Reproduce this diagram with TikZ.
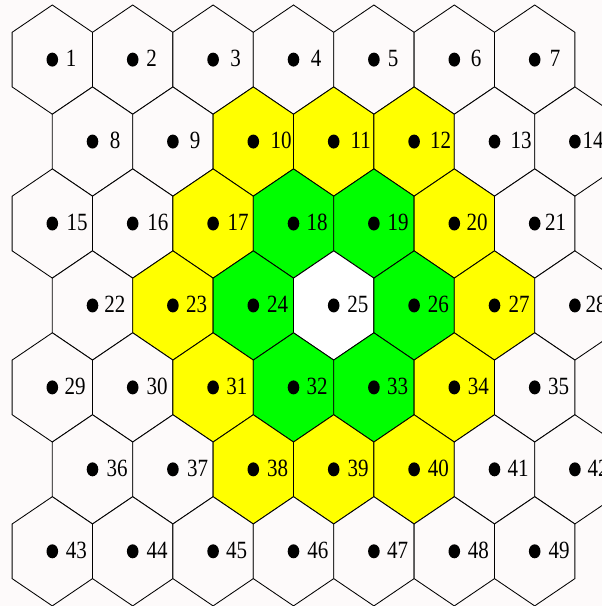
\documentclass[tikz,border=0pt]{standalone}
\usepackage{fontspec}
\setmainfont{Liberation Serif}
\usetikzlibrary{shapes.geometric}
\definecolor{bgc}{RGB}{253,250,250}
\definecolor{yel}{RGB}{255,255,0}
\definecolor{grn}{RGB}{0,255,0}
\tikzset{
  hexline/.style={draw=black, line width=0.85pt, line join=miter},
  dotn/.style={ellipse, fill=black, draw=none, inner sep=0pt, minimum width=11.6pt, minimum height=14pt},
  lbl/.style={inner sep=0pt, font=\fontsize{21}{21}\selectfont}
}
\newcommand\hexcell[5]{%
  \filldraw[hexline, fill=#5] ({#2-40.2},{#3-27.3}) -- (#2,{#3-54.6}) -- ({#2+40.2},{#3-27.3}) -- ({#2+40.2},{#3+27.3}) -- (#2,{#3+54.6}) -- ({#2-40.2},{#3+27.3}) -- cycle;
  \node[dotn] (d#1) at (#2,#3) {};
  \node[lbl] (n#1) at (#4,{#3-1}) {\scalebox{1}[1.18]{#1}};
}
\begin{document}
\begin{tikzpicture}[x=1pt,y=-1pt]
\useasboundingbox (0,0) rectangle (602,606);
\fill[bgc] (0,0) rectangle (602,606);
\clip (0,0) rectangle (602,606);
% row 1
\hexcell{1}{52.3}{59.6}{71}{bgc}
\hexcell{2}{132.7}{59.6}{151.6}{bgc}
\hexcell{3}{213.1}{59.6}{235.7}{bgc}
\hexcell{4}{293.5}{59.6}{316}{bgc}
\hexcell{5}{373.9}{59.6}{393}{bgc}
\hexcell{6}{454.3}{59.6}{476}{bgc}
\hexcell{7}{534.7}{59.6}{555}{bgc}
% row 2
\hexcell{8}{92.5}{141.55}{115.2}{bgc}
\hexcell{9}{172.9}{141.55}{195}{bgc}
\hexcell{10}{253.3}{141.55}{281}{yel}
\hexcell{11}{333.7}{141.55}{360.8}{yel}
\hexcell{12}{414.1}{141.55}{440.7}{yel}
\hexcell{13}{494.5}{141.55}{521}{bgc}
\hexcell{14}{574.9}{141.55}{593}{bgc}
% row 3
\hexcell{15}{52.3}{223.5}{77.2}{bgc}
\hexcell{16}{132.7}{223.5}{157.8}{bgc}
\hexcell{17}{213.1}{223.5}{238}{yel}
\hexcell{18}{293.5}{223.5}{317}{grn}
\hexcell{19}{373.9}{223.5}{398}{grn}
\hexcell{20}{454.3}{223.5}{477}{yel}
\hexcell{21}{534.7}{223.5}{555.5}{bgc}
% row 4
\hexcell{22}{92.5}{305.45}{114.8}{bgc}
\hexcell{23}{172.9}{305.45}{196.5}{yel}
\hexcell{24}{253.3}{305.45}{277.5}{grn}
\hexcell{25}{333.7}{305.45}{357.8}{white}
\hexcell{26}{414.1}{305.45}{438.4}{grn}
\hexcell{27}{494.5}{305.45}{519}{yel}
\hexcell{28}{574.9}{305.45}{596}{bgc}
% row 5
\hexcell{29}{52.3}{387.4}{75.2}{bgc}
\hexcell{30}{132.7}{387.4}{157}{bgc}
\hexcell{31}{213.1}{387.4}{236.9}{yel}
\hexcell{32}{293.5}{387.4}{317}{grn}
\hexcell{33}{373.9}{387.4}{397.7}{grn}
\hexcell{34}{454.3}{387.4}{478.3}{yel}
\hexcell{35}{534.7}{387.4}{558.5}{bgc}
% row 6
\hexcell{36}{92.5}{469.35}{117}{bgc}
\hexcell{37}{172.9}{469.35}{197.7}{bgc}
\hexcell{38}{253.3}{469.35}{277.5}{yel}
\hexcell{39}{333.7}{469.35}{358.2}{yel}
\hexcell{40}{414.1}{469.35}{438.4}{yel}
\hexcell{41}{494.5}{469.35}{518.2}{bgc}
\hexcell{42}{574.9}{469.35}{598}{bgc}
% row 7
\hexcell{43}{52.3}{551.3}{76.4}{bgc}
\hexcell{44}{132.7}{551.3}{157}{bgc}
\hexcell{45}{213.1}{551.3}{236.5}{bgc}
\hexcell{46}{293.5}{551.3}{317.8}{bgc}
\hexcell{47}{373.9}{551.3}{397.7}{bgc}
\hexcell{48}{454.3}{551.3}{478.3}{bgc}
\hexcell{49}{534.7}{551.3}{559}{bgc}
\end{tikzpicture}
\end{document}
